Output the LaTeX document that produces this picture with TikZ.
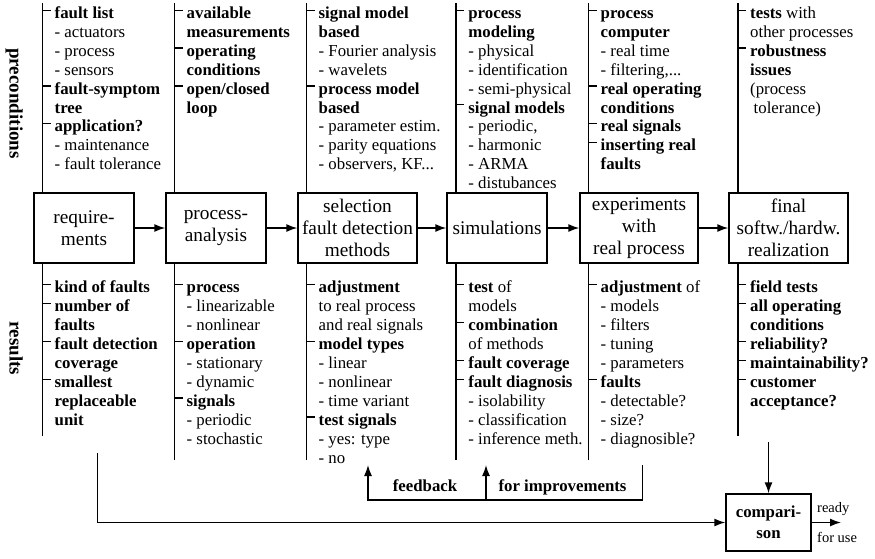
\documentclass[tikz,border=0pt]{standalone}
\usepackage{fontspec}
\setmainfont{Liberation Serif}
\usetikzlibrary{arrows.meta}

% small tick that marks the start of a new item at a column line
\newcommand\tk{\llap{\rule[7.6pt]{7.5pt}{1.3pt}\hspace{4pt}}}

\tikzset{
  stage/.style={draw, line width=1.4pt, inner sep=0pt, minimum height=70pt,
    align=center, font=\fontsize{19.3}{22}\selectfont},
  coltext/.style={anchor=north west, inner sep=0pt, align=left,
    font=\fontsize{16.8}{18.9}\selectfont},
  colline/.style={line width=1.5pt},
  arr/.style={line width=1.4pt, -{Latex[length=11pt,width=8pt]}},
  side/.style={rotate=-90, anchor=base, inner sep=0pt,
    font=\fontsize{19}{22}\selectfont\bfseries},
  lbl/.style={anchor=base, inner sep=0pt, font=\fontsize{16.8}{18.9}\selectfont\bfseries},
  small/.style={anchor=base west, inner sep=0pt, font=\fontsize{14.5}{17}\selectfont}
}

\begin{document}
\begin{tikzpicture}[x=1pt, y=-1pt]
\useasboundingbox (0,0) rectangle (875,558);

% side labels
\node[side] (pre) at (9.5,103.5) {preconditions};
\node[side] (res) at (9.5,348.5) {results};

% stages
\node[stage, minimum width=100pt] (b1) at (84,228)    {require-\\ments};
\node[stage, minimum width=100pt] (b2) at (216,228)   {process-\\analysis};
\node[stage, minimum width=119pt] (b3) at (357.5,228) {selection\\fault detection\\methods};
\node[stage, minimum width=100pt] (b4) at (497,228)   {simulations};
\node[stage, minimum width=118pt] (b5) at (639,228)   {experiments\\with\\real process};
\node[stage, minimum width=119pt] (b6) at (788.5,228) {final\\softw./hardw.\\realization};

\draw[arr] (b1) -- (b2);
\draw[arr] (b2) -- (b3);
\draw[arr] (b3) -- (b4);
\draw[arr] (b4) -- (b5);
\draw[arr] (b5) -- (b6);

% column lines above and below each stage
\foreach \b/\dx/\len in {b1/9/172, b2/9/196, b3/9/196, b4/9.7/196, b5/9/196, b6/9.5/172}{
  \draw[colline] ([xshift=\dx pt]\b.north west) -- ++(0,-189);
  \draw[colline] ([xshift=\dx pt]\b.south west) -- ++(0,\len);
}

% preconditions
\node[coltext] (p1) at (54.5,5.1) {\strut\tk\textbf{fault list}\\
- actuators\\
- process\\
- sensors\\
\tk\textbf{fault-symptom}\\
\textbf{tree}\\
\tk\textbf{application?}\\
- maintenance\\
- fault tolerance};

\node[coltext] (p2) at (186.5,5.1) {\strut\tk\textbf{available}\\
\textbf{measurements}\\
\tk\textbf{operating}\\
\textbf{conditions}\\
\tk\textbf{open/closed}\\
\textbf{loop}};

\node[coltext] (p3) at (318.5,5.1) {\strut\tk\textbf{signal model}\\
\textbf{based}\\
- Fourier analysis\\
- wavelets\\
\tk\textbf{process model}\\
\textbf{based}\\
- parameter estim.\\
- parity equations\\
- observers, KF...};

\node[coltext] (p4) at (468.2,5.1) {\strut\tk\textbf{process}\\
\textbf{modeling}\\
- physical\\
- identification\\
- semi-physical\\
\tk\textbf{signal models}\\
- periodic,\\
- harmonic\\
- ARMA\\
- distubances};

\node[coltext] (p5) at (600.5,5.1) {\strut\tk\textbf{process}\\
\textbf{computer}\\
- real time\\
- filtering,...\\
\tk\textbf{real operating}\\
\textbf{conditions}\\
\tk\textbf{real signals}\\
\tk\textbf{inserting real}\\
\textbf{faults}};

\node[coltext] (p6) at (750,5.1) {\strut\tk\textbf{tests} with\\
other processes\\
\tk\textbf{robustness}\\
\textbf{issues}\\
(process\\
\hspace{3.5pt}tolerance)};

% results
\node[coltext] (r1) at (54.5,279.5) {\strut\tk\textbf{kind of faults}\\
\tk\textbf{number of}\\
\textbf{faults}\\
\tk\textbf{fault detection}\\
\textbf{coverage}\\
\tk\textbf{smallest}\\
\textbf{replaceable}\\
\textbf{unit}};

\node[coltext] (r2) at (186.5,279.5) {\strut\tk\textbf{process}\\
- linearizable\\
- nonlinear\\
\tk\textbf{operation}\\
- stationary\\
- dynamic\\
\tk\textbf{signals}\\
- periodic\\
- stochastic};

\node[coltext] (r3) at (318.5,279.5) {\strut\tk\textbf{adjustment}\\
to real process\\
and real signals\\
\tk\textbf{model types}\\
- linear\\
- nonlinear\\
- time variant\\
\tk\textbf{test signals}\\
- yes: type\\
- no};

\node[coltext] (r4) at (468.2,279.5) {\strut\tk\textbf{test} of\\
models\\
\tk\textbf{combination}\\
of methods\\
\tk\textbf{fault coverage}\\
\tk\textbf{fault diagnosis}\\
- isolability\\
- classification\\
- inference meth.};

\node[coltext] (r5) at (600.5,279.5) {\strut\tk\textbf{adjustment} of\\
- models\\
- filters\\
- tuning\\
- parameters\\
\tk\textbf{faults}\\
- detectable?\\
- size?\\
- diagnosible?};

\node[coltext] (r6) at (750,279.5) {\strut\tk\textbf{field tests}\\
\tk\textbf{all operating}\\
\textbf{conditions}\\
\tk\textbf{reliability?}\\
\tk\textbf{maintainability?}\\
\tk\textbf{customer}\\
\textbf{acceptance?}};

% feedback loop
\coordinate (fbR)  at (642.5,465);
\coordinate (fbC)  at (642.5,500);
\coordinate (fbL)  at (368,500);
\coordinate (fbLt) at (368,465);
\coordinate (fbM)  at (486,500);
\coordinate (fbMt) at (486,465);
\draw[arr] (fbR) -- (fbC) -- (fbL) -- (fbLt);
\draw[arr] (fbM) -- (fbMt);
\node[lbl] (fb) at (425,491) {feedback};
\node[lbl] (fi) at (562.5,491) {for improvements};

% comparison
\node[draw, line width=1.4pt, minimum width=85pt, minimum height=57pt, inner sep=0pt,
  align=center, font=\fontsize{16.8}{21}\selectfont\bfseries] (cmp) at (768.5,522.5) {compari-\\son};
\coordinate (rq)  at (97.5,453);
\coordinate (fin) at (768.5,442);
\coordinate (out) at (841,522.5);
\draw[arr] (rq) |- (cmp.west);
\draw[arr] (fin) -- (cmp.north);
\draw[arr] (cmp.east) -- (out);
\node[small] (rdy) at (817,512) {ready};
\node[small] (fu)  at (817,542) {for use};
\end{tikzpicture}
\end{document}
